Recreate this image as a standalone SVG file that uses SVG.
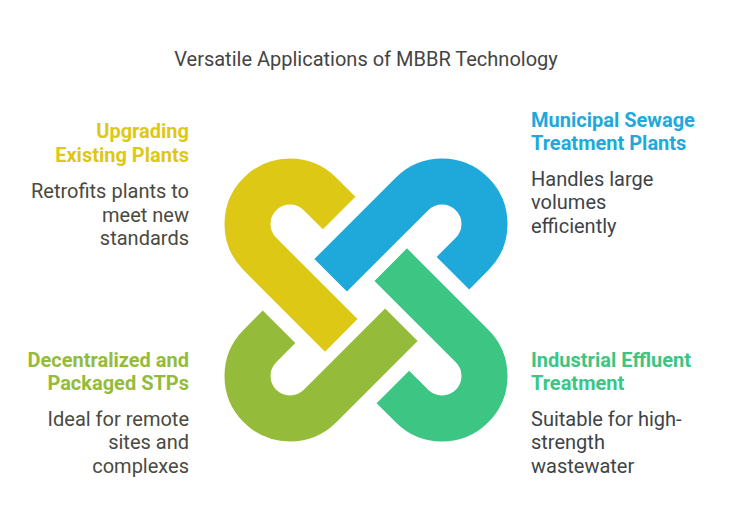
<svg xmlns="http://www.w3.org/2000/svg" width="733" height="529" viewBox="0 0 733 529">
<style>
.t{font-family:Roboto,"Liberation Sans",sans-serif;font-size:20px;}
.h{font-weight:bold;}
.r{text-anchor:end;}
.link{fill:none;stroke-width:46;stroke-linecap:butt;stroke-linejoin:round;}
</style>
<defs>
<path id="hook" d="M341.27,335.37 L259.95,254.05 A42.5,42.5 0 0 1 259.95,193.95 A42.5,42.5 0 0 1 320.05,193.95 L339.14,213.04"/>
</defs>
<rect width="733" height="529" fill="#ffffff"/>
<text class="t" x="366" y="66" text-anchor="middle" fill="#444444">Versatile Applications of MBBR Technology</text>
<g id="links">
<g id="link-yellow"><use href="#hook" class="link" stroke="#DEC816"/></g>
<g id="link-blue"><use href="#hook" class="link" stroke="#1FA9DB" transform="rotate(90 366 300)"/></g>
<g id="link-green"><use href="#hook" class="link" stroke="#3DC584" transform="rotate(180 366 300)"/></g>
<g id="link-olive"><use href="#hook" class="link" stroke="#94BC3A" transform="rotate(270 366 300)"/></g>
</g>
<g id="node-upgrading">
<text class="t h r" x="189" y="138" fill="#DEC816">Upgrading</text>
<text class="t h r" x="189" y="162" fill="#DEC816">Existing Plants</text>
<text class="t r" x="189" y="198" fill="#4A4A3E">Retrofits plants to</text>
<text class="t r" x="189" y="222" fill="#4A4A3E">meet new</text>
<text class="t r" x="189" y="245" fill="#4A4A3E">standards</text>
</g>
<g id="node-municipal">
<text class="t h" x="531" y="127" fill="#1FA9DB">Municipal Sewage</text>
<text class="t h" x="531" y="150" fill="#1FA9DB">Treatment Plants</text>
<text class="t" x="531" y="186" fill="#3E4448">Handles large</text>
<text class="t" x="531" y="209" fill="#3E4448">volumes</text>
<text class="t" x="531" y="233" fill="#3E4448">efficiently</text>
</g>
<g id="node-decentralized">
<text class="t h r" x="189" y="367" fill="#94BC3A">Decentralized and</text>
<text class="t h r" x="189" y="390" fill="#94BC3A">Packaged STPs</text>
<text class="t r" x="189" y="426" fill="#4A4A3E">Ideal for remote</text>
<text class="t r" x="189" y="449" fill="#4A4A3E">sites and</text>
<text class="t r" x="189" y="473" fill="#4A4A3E">complexes</text>
</g>
<g id="node-industrial">
<text class="t h" x="531" y="367" fill="#3DC584">Industrial Effluent</text>
<text class="t h" x="531" y="390" fill="#3DC584">Treatment</text>
<text class="t" x="531" y="426" fill="#3E4448">Suitable for high-</text>
<text class="t" x="531" y="449" fill="#3E4448">strength</text>
<text class="t" x="531" y="473" fill="#3E4448">wastewater</text>
</g>
</svg>
